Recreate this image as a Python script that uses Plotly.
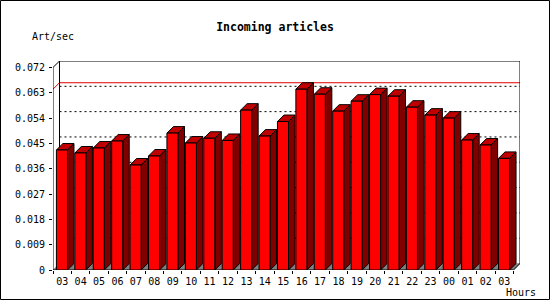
import plotly.graph_objects as go

# ---- data ----
hours = ["03", "04", "05", "06", "07", "08", "09", "10", "11", "12", "13", "14", "15",
         "16", "17", "18", "19", "20", "21", "22", "23", "00", "01", "02", "03"]
values = [0.04266, 0.04160, 0.04337, 0.04585, 0.03734, 0.04053, 0.04868, 0.04514,
          0.04684, 0.04606, 0.05683, 0.04762, 0.05279, 0.06427, 0.06250, 0.05648,
          0.06002, 0.06236, 0.06179, 0.05789, 0.05506, 0.05400, 0.04620, 0.04443,
          0.03968]
y_ticks = [0, 0.009, 0.018, 0.027, 0.036, 0.045, 0.054, 0.063, 0.072]
y_tick_text = ["0", "0.009", "0.018", "0.027", "0.036", "0.045", "0.054", "0.063", "0.072"]
title = "Incoming articles"
y_title = "Art/sec"
x_title = "Hours"

# ---- geometry (3D look) ----
N = len(values)
DX = 0.353      # depth in x units
DY = 0.0023     # depth in y units
A = 0.185       # front face offset within slot
W = 0.60        # front face width
YMAX = y_ticks[-1]
YTOP = YMAX + DY
XR = N + DX

MONO = "DejaVu Sans Mono"
fig = go.Figure()

def poly_trace(polys, fill, line_color="black", width=1):
    xs, ys = [], []
    for p in polys:
        for (x, y) in p:
            xs.append(x); ys.append(y)
        xs.append(p[0][0]); ys.append(p[0][1])
        xs.append(None); ys.append(None)
    return go.Scatter(x=xs, y=ys, mode="lines", fill="toself", fillcolor=fill,
                      line=dict(color=line_color, width=width), hoverinfo="skip",
                      showlegend=False)

# floor
fig.add_trace(poly_trace([[(0, 0), (N, 0), (N + DX, DY), (DX, DY)]], "#808080",
                         line_color="#808080", width=0.5))

# back-wall gridlines (dotted)
gx, gy = [], []
for v in y_ticks[1:-1]:
    gx += [DX, XR, None]
    gy += [v + DY, v + DY, None]
fig.add_trace(go.Scatter(x=gx, y=gy, mode="lines", hoverinfo="skip", showlegend=False,
                         line=dict(color="black", width=1, dash="2px,3px")))

# max line (red)
vmax = max(values)
fig.add_trace(go.Scatter(x=[0, DX, XR], y=[vmax, vmax + DY, vmax + DY], mode="lines",
                         hoverinfo="skip", showlegend=False,
                         line=dict(color="#e00000", width=1)))

# walls / axes frame
fig.add_trace(go.Scatter(
    x=[0, 0, DX, XR, XR, N, None, DX, DX, None, 0, N],
    y=[0, YMAX, YTOP, YTOP, DY, 0, None, YTOP, DY, None, 0, 0],
    mode="lines", hoverinfo="skip", showlegend=False,
    line=dict(color="black", width=1)))

# bars
fronts, sides, tops = [], [], []
for i, v in enumerate(values):
    x0 = i + A
    x1 = x0 + W
    fronts.append([(x0, 0), (x1, 0), (x1, v), (x0, v)])
    sides.append([(x1, 0), (x1 + DX, DY), (x1 + DX, v + DY), (x1, v)])
    tops.append([(x0, v), (x1, v), (x1 + DX, v + DY), (x0 + DX, v + DY)])
fig.add_trace(poly_trace(sides, "#800000"))
fig.add_trace(poly_trace(tops, "#c00000"))
fig.add_trace(poly_trace(fronts, "#ff0000"))

L, R, T, B = 53, 30, 61, 30
PW, PH = 550 - L - R, 300 - T - B

fig.update_layout(
    width=550, height=300,
    margin=dict(l=L, r=R, t=T, b=B),
    paper_bgcolor="white", plot_bgcolor="white",
    showlegend=False,
    title=dict(text="<b>" + title + "</b>", x=0.5, xref="container", xanchor="center",
               y=1 - 27 / 300, yref="container", yanchor="middle",
               font=dict(family=MONO, size=11.5, color="black")),
    xaxis=dict(range=[0, XR], showgrid=False, zeroline=False, showline=False,
               tickmode="array", tickvals=[i + 0.5 for i in range(N)], ticktext=hours,
               ticks="", ticklabelstandoff=4,
               tickfont=dict(family=MONO, size=10, color="black"),
               minor=dict(tickmode="array", tickvals=list(range(N + 1)), ticks="outside",
                          ticklen=3, tickcolor="black", showgrid=False),
               fixedrange=True),
    yaxis=dict(range=[0, YTOP], showgrid=False, zeroline=False, showline=False,
               tickmode="array", tickvals=y_ticks, ticktext=y_tick_text,
               ticks="outside", ticklen=3, tickcolor="black", ticklabelstandoff=2,
               tickfont=dict(family=MONO, size=10, color="black"),
               fixedrange=True),
    annotations=[
        dict(text=y_title, xref="paper", yref="paper", x=(30 - L) / PW, y=(300 - B - 36.7) / PH,
             xanchor="left", yanchor="middle", showarrow=False,
             font=dict(family=MONO, size=10, color="black")),
        dict(text=x_title, xref="paper", yref="paper", x=(504 - L) / PW, y=(300 - B - 292.7) / PH,
             xanchor="left", yanchor="middle", showarrow=False,
             font=dict(family=MONO, size=10, color="black")),
    ],
    shapes=[dict(type="rect", xref="paper", yref="paper",
                 x0=(0.5 - L) / PW, x1=(549.5 - L) / PW,
                 y0=(300 - B - 299.5) / PH, y1=(300 - B - 0.5) / PH,
                 line=dict(color="black", width=1), fillcolor="rgba(0,0,0,0)")],
)

fig.write_html("out.html")
